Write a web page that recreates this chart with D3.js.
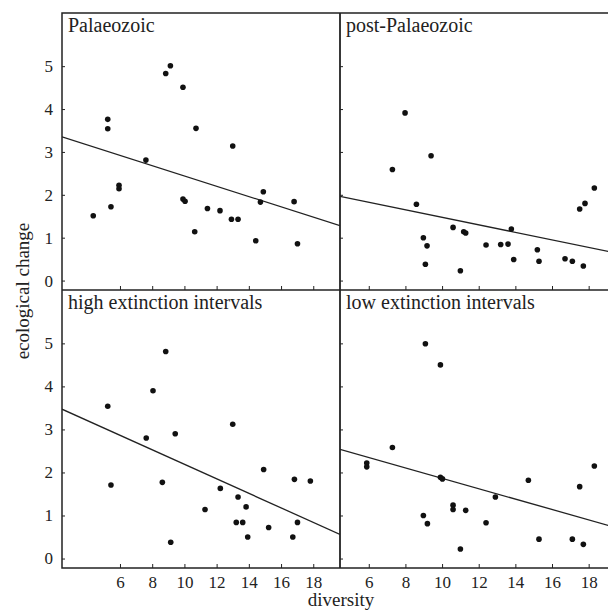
<!DOCTYPE html>
<html lang="en">
<head>
<meta charset="UTF-8">
<title>ecological change vs diversity</title>
<script src="https://d3js.org/d3.v7.min.js"></script>
<style>
	body { margin:0; background:#fff; }
	svg { display:block; }
	svg text { font-family:"Liberation Serif","Times New Roman","DejaVu Serif",serif; fill:#222; }
</style>
</head>
<body>
<div id="chart"></div>
<script>

	//panel titles
	var panelTitles = ["Palaeozoic", "post-Palaeozoic", "high extinction intervals", "low extinction intervals"];

	//diversity / ecological change pairs
	var palaeoX = [4.34,5.24,5.24,5.44,5.94,5.94,7.61,8.84,9.13,9.91,9.91,10.04,10.72,10.64,11.43,12.21,13.0,12.92,13.33,14.43,14.72,14.9,16.81,17.02];
	var palaeoY = [1.51,3.76,3.54,1.72,2.22,2.14,2.81,4.83,5.01,4.51,1.90,1.85,3.55,1.14,1.68,1.63,3.14,1.43,1.43,0.93,1.83,2.07,1.84,0.86];

	var postX = [7.29,7.98,9.40,8.60,8.98,9.18,9.09,10.60,11.18,11.29,11.0,12.40,13.20,13.60,13.78,13.91,15.20,15.29,16.71,17.11,17.71,17.51,17.80,18.31];
	var postY = [2.59,3.91,2.91,1.78,1.00,0.81,0.38,1.24,1.14,1.11,0.23,0.83,0.84,0.85,1.20,0.49,0.72,0.45,0.51,0.45,0.34,1.67,1.80,2.16];

	var highX = [5.24,5.44,7.63,8.05,8.84,8.63,9.43,9.15,11.28,12.23,13.0,13.33,13.83,13.22,13.62,13.93,14.92,15.23,16.83,17.82,17.02,16.73];
	var highY = [3.54,1.71,2.80,3.90,4.81,1.77,2.90,0.38,1.14,1.63,3.12,1.43,1.20,0.84,0.84,0.50,2.07,0.72,1.84,1.80,0.84,0.50];

	var lowX = [5.89,5.89,7.29,9.09,9.91,9.91,10.02,8.98,9.20,10.60,10.60,11.29,11.0,12.40,12.91,14.71,15.29,17.11,17.71,17.51,18.31];
	var lowY = [2.22,2.13,2.58,4.99,4.50,1.89,1.85,1.00,0.81,1.24,1.14,1.12,0.22,0.83,1.43,1.82,0.45,0.45,0.33,1.67,2.15];

	//fitted lines: intercept and slope per panel
	var fitIntercept = [3.64, 2.35, 3.875, 3.07];
	var fitSlope = [-0.12, -0.0875, -0.1686, -0.1206];

	//tick labels
	var xTicks = [6, 8, 10, 12, 14, 16, 18];
	var yTicks = [0, 1, 2, 3, 4, 5];

	var W = 608, H = 612;
	var serif = "'Liberation Serif','Times New Roman','DejaVu Serif',serif";
	var svg = d3.select("#chart").append("svg").attr("width", W).attr("height", H);

	//frame edges (right edge sits just past the picture, as in the original)
	var leftX = 62, midX = 340, rightX = 609;
	var topY = 13, midY = 290, bottomY = 568;

	//left and right columns use different diversity ranges
	var xLeft = d3.scaleLinear().domain([2.4, 19.66]).range([leftX, midX]);
	var xRight = d3.scaleLinear().domain([4.43, 19.11]).range([midX, rightX]);
	var yTop = d3.scaleLinear().domain([-0.22, 6.24]).range([midY, topY]);
	var yBot = d3.scaleLinear().domain([-0.22, 6.24]).range([bottomY, midY]);

	var panels = [
		{title: panelTitles[0], xs: palaeoX, ys: palaeoY, x: xLeft, y: yTop, i: 0},
		{title: panelTitles[1], xs: postX, ys: postY, x: xRight, y: yTop, i: 1},
		{title: panelTitles[2], xs: highX, ys: highY, x: xLeft, y: yBot, i: 2},
		{title: panelTitles[3], xs: lowX, ys: lowY, x: xRight, y: yBot, i: 3}
	];

	panels.forEach(function(p) {
		var x0 = p.x.range()[0], x1 = p.x.range()[1];
		var y0 = p.y.range()[1], y1 = p.y.range()[0];

		var g = svg.append("g");
		g.append("clipPath").attr("id", "clip" + p.i)
			.append("rect").attr("x", x0).attr("y", y0).attr("width", x1 - x0).attr("height", y1 - y0);

		//x ticks point up from the bottom edge of every panel
		var xAxis = d3.axisBottom(p.x).tickValues(xTicks).tickSizeInner(-4).tickSizeOuter(0)
			.tickFormat(p.y === yBot ? d3.format("d") : "");
		var ax = g.append("g").attr("transform", "translate(0," + y1 + ")").call(xAxis);
		ax.attr("font-family", serif).attr("font-size", 17);
		ax.select(".domain").remove();
		ax.selectAll("line").attr("stroke", "#222").attr("stroke-width", 1);
		ax.selectAll("text").attr("y", 8).attr("dy", "0.71em").attr("fill", "#222");

		//y ticks point right from the left edge of every panel
		var yAxis = d3.axisRight(p.y).tickValues(yTicks).tickSizeInner(3).tickSizeOuter(0).tickFormat("");
		var ay = g.append("g").attr("transform", "translate(" + x0 + ",0)").call(yAxis);
		ay.select(".domain").remove();
		ay.selectAll("line").attr("stroke", "#222").attr("stroke-width", 1);

		if (p.x === xLeft) {
			g.selectAll("text.ylab").data(yTicks).enter().append("text")
				.attr("class", "ylab")
				.attr("x", x0 - 9)
				.attr("y", function(d) { return p.y(d); })
				.attr("dy", "0.35em")
				.attr("text-anchor", "end")
				.attr("font-family", serif)
				.attr("font-size", 17)
				.text(function(d) { return d; });
		}

		//regression line
		var d0 = p.x.domain()[0], d1 = p.x.domain()[1];
		var a = fitIntercept[p.i], b = fitSlope[p.i];
		g.append("line")
			.attr("clip-path", "url(#clip" + p.i + ")")
			.attr("x1", p.x(d0)).attr("y1", p.y(a + b * d0))
			.attr("x2", p.x(d1)).attr("y2", p.y(a + b * d1))
			.attr("stroke", "#222").attr("stroke-width", 1.3);

		//points
		g.selectAll("circle").data(d3.range(p.xs.length)).enter().append("circle")
			.attr("cx", function(k) { return p.x(p.xs[k]); })
			.attr("cy", function(k) { return p.y(p.ys[k]); })
			.attr("r", 2.8)
			.attr("fill", "#111");

		g.append("text")
			.attr("x", x0 + 6)
			.attr("y", y0 + 19)
			.attr("font-family", serif)
			.attr("font-size", 20)
			.text(p.title);
	});

	//frame and dividers
	svg.append("rect")
		.attr("x", leftX).attr("y", topY).attr("width", rightX - leftX).attr("height", bottomY - topY)
		.attr("fill", "none").attr("stroke", "#222").attr("stroke-width", 1.5);
	svg.append("line").attr("x1", midX).attr("x2", midX).attr("y1", topY).attr("y2", bottomY)
		.attr("stroke", "#222").attr("stroke-width", 1.8);
	svg.append("line").attr("x1", leftX).attr("x2", rightX).attr("y1", midY).attr("y2", midY)
		.attr("stroke", "#222").attr("stroke-width", 1.5);

	//axis titles
	svg.append("text")
		.attr("x", 341).attr("y", 606)
		.attr("text-anchor", "middle")
		.attr("font-family", serif)
		.attr("font-size", 19)
		.text("diversity");

	svg.append("text")
		.attr("transform", "translate(29,291) rotate(-90)")
		.attr("text-anchor", "middle")
		.attr("font-family", serif)
		.attr("font-size", 19)
		.text("ecological change");

</script>
</body>
</html>
